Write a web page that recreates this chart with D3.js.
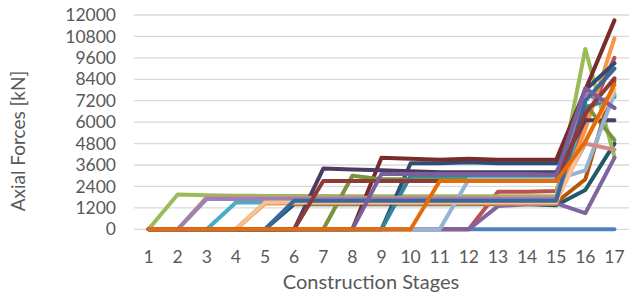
<!DOCTYPE html>
<html><head><meta charset="utf-8">
<script src="https://cdn.jsdelivr.net/npm/d3@7"></script>
<style>body{margin:0;background:#fff}svg{display:block}</style>
</head><body>
<svg id="c" width="631" height="294"></svg>
<script>
const stages = ["1","2","3","4","5","6","7","8","9","10","11","12","13","14","15","16","17"];
const yTicks = [0,1200,2400,3600,4800,6000,7200,8400,9600,10800,12000];
const seriesColors = ["#4F81BD","#215968","#C0504D","#9BBB59","#8064A2","#4BACC6","#F79646","#2C4D75","#772C2A","#77933C","#4D3B62","#31859C","#B65708","#95B3D7","#D38B88","#9983B5","#FAC090","#3A679C","#8E3A37","#7A5F9D","#E46C0A"];
const s1  = [0,0,0,0,0,0,0,0,0,0,0,0,0,0,0,0,0];
const s23 = [0,0,0,0,0,1400,1400,1400,1400,1400,1400,1400,1400,1400,1350,2200,4800];
const s2  = [0,0,0,0,0,0,0,0,0,0,0,0,2100,2100,2150,6000,9600];
const s3  = [0,1950,1900,1880,1870,1860,1860,1850,1850,1850,1850,1850,1850,1850,1850,10100,4050];
const s4  = [0,0,0,0,0,0,0,0,0,0,0,0,1300,1400,1450,900,4000];
const s5  = [0,0,0,1500,1500,1500,1500,1500,1500,1500,1500,1500,1500,1500,1500,6800,7500];
const s6  = [0,0,0,0,1450,1450,1450,1450,1450,1450,1450,1450,1450,1450,1450,5600,10700];
const s7  = [0,0,0,0,0,0,0,0,0,3700,3700,3750,3700,3700,3700,7800,9300];
const s8  = [0,0,0,0,0,0,0,0,4000,3950,3900,3950,3900,3900,3900,7800,11700];
const s9  = [0,0,0,0,0,0,0,3000,2800,2800,2800,2800,2800,2800,2800,7000,5000];
const s10 = [0,0,0,0,0,0,3400,3350,3300,3250,3200,3200,3200,3200,3200,6100,6100];
const s11 = [0,0,0,0,0,0,0,0,0,3000,3000,3000,3000,3000,3000,6800,7400];
const s12 = [0,0,0,0,1500,1500,1500,1500,1500,1500,1500,1500,1500,1500,1500,2800,8300];
const s13 = [0,0,0,0,0,0,0,0,0,0,0,2800,2800,2800,2800,3300,7600];
const s14 = [0,0,1800,1780,1770,1760,1760,1760,1760,1760,1760,1760,1760,1760,1760,4800,4450];
const s16 = [0,0,1700,1700,1700,1700,1700,1700,1700,1700,1700,1700,1700,1700,1700,7600,6800];
const s18 = [0,0,0,0,1500,1500,1500,1500,1500,1500,1500,1500,1500,1500,1500,5000,7800];
const s19 = [0,0,0,0,0,1600,1600,1600,1600,1600,1600,1600,1600,1600,1600,7200,9000];
const s20 = [0,0,0,0,0,0,2700,2700,2700,2700,2700,2700,2700,2700,2700,6500,8450];
const s22 = [0,0,0,0,0,0,0,0,3100,3100,3100,3100,3100,3100,3050,7900,6800];
const s24 = [0,0,0,0,0,0,0,0,0,0,2700,2700,2700,2700,2700,4900,8100];
const seriesValues = [s1,s23,s2,s3,s4,s5,s6,s7,s8,s9,s10,s11,s12,s13,s14,s16,s18,s19,s20,s22,s24];

const svg = d3.select("#c");
const x = d3.scaleBand().domain(stages).range([134,629]).paddingInner(0).paddingOuter(0);
const y = d3.scaleLinear().domain([0,12000]).range([229.3,15]);
const cx = d => x(d) + x.bandwidth()/2;
const font = "Lato, 'Open Sans', sans-serif";

svg.append("g").selectAll("line").data(yTicks).join("line")
  .attr("x1",134).attr("x2",629)
  .attr("y1",d=>y(d)).attr("y2",d=>y(d))
  .attr("stroke","#D9D9D9").attr("stroke-width",1.3);

const ya = svg.append("g").attr("transform","translate(134,0)")
  .call(d3.axisLeft(y).tickValues(yTicks).tickSize(0).tickPadding(18).tickFormat(d3.format("d")));
ya.select(".domain").remove();
ya.selectAll("text").attr("fill","#595959").style("font-family",font).style("font-size","17.5px");

const xa = svg.append("g").attr("transform","translate(0,229.3)")
  .call(d3.axisBottom(x).tickSize(0).tickPadding(21));
xa.select(".domain").remove();
xa.selectAll("text").attr("fill","#595959").style("font-family",font).style("font-size","17.5px");

const line = d3.line().x((d,i)=>cx(stages[i])).y(d=>y(d));
svg.append("g").selectAll("path").data(seriesValues).join("path")
  .attr("d",line)
  .attr("fill","none")
  .attr("stroke",(d,i)=>seriesColors[i])
  .attr("stroke-width",4)
  .attr("stroke-linejoin","round")
  .attr("stroke-linecap","round");

svg.append("text").attr("x",371).attr("y",289).attr("text-anchor","middle")
  .attr("fill","#595959").style("font-family",font).style("font-size","20px").text("Construction Stages");
svg.append("text").attr("transform","translate(25,141) rotate(-90)").attr("text-anchor","middle")
  .attr("fill","#595959").style("font-family",font).style("font-size","19px").text("Axial Forces [kN]");
</script>
</body></html>
